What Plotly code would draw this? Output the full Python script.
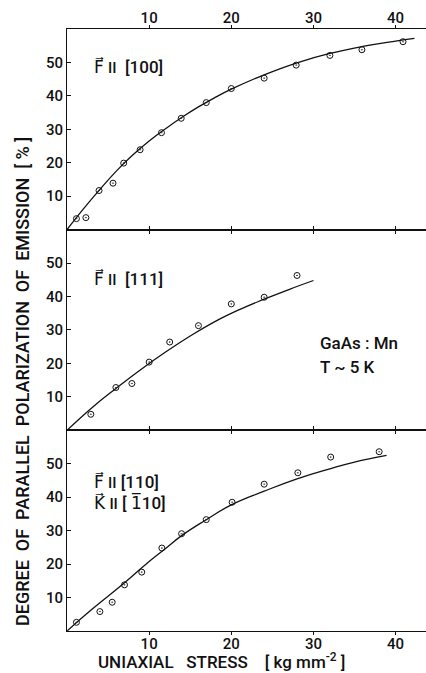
import plotly.graph_objects as go
from plotly.subplots import make_subplots

# ---- data ----
# Panel 1: F || [100]
x100 = [1.15, 2.3, 3.9, 5.6, 6.9, 8.9, 11.5, 13.9, 16.95, 20.0, 24.0, 27.9, 32.0, 35.9, 40.9]
y100 = [3.3, 3.6, 11.7, 13.9, 19.9, 23.9, 29.0, 33.3, 38.0, 42.2, 45.3, 49.2, 52.1, 53.8, 56.2]
cx100 = [0, 2, 4, 6, 8, 10, 12, 14, 16, 18, 20, 24, 28, 32, 36, 40, 42.3]
cy100 = [0, 6.2, 12.0, 17.5, 22.3, 26.5, 30.2, 33.6, 36.7, 39.5, 42.0, 46.3, 49.9, 52.7, 54.8, 56.4, 57.2]

# Panel 2: F || [111]
x111 = [2.9, 5.95, 7.9, 10.0, 12.5, 16.0, 20.0, 24.0, 28.0]
y111 = [4.8, 12.8, 14.0, 20.4, 26.4, 31.3, 37.8, 39.8, 46.3]
cx111 = [0, 3, 6, 9, 12, 15, 18, 21, 24, 27, 30]
cy111 = [0, 6.7, 12.6, 18.2, 23.4, 28.2, 32.5, 36.1, 39.2, 42.1, 44.8]

# Panel 3: F || [110], K || [-110]
x110 = [1.15, 4.0, 5.5, 7.0, 9.1, 11.55, 13.95, 16.95, 20.1, 24.0, 28.1, 32.1, 38.0]
y110 = [2.6, 5.8, 8.6, 13.8, 17.6, 24.8, 29.1, 33.3, 38.5, 43.9, 47.3, 52.0, 53.6]
cx110 = [0, 3, 7, 10, 12, 14, 16.9, 20, 24, 28, 32, 35, 38.9]
cy110 = [0, 6.4, 14.4, 20.8, 24.7, 28.6, 33.2, 37.7, 41.8, 45.5, 48.5, 50.5, 52.5]

xticks = [10, 20, 30, 40]
yticks = [10, 20, 30, 40, 50]

FONT = "Roboto, DejaVu Sans"
INK = "#111111"
W = 500
SP = "\u00a0"

fig = make_subplots(rows=3, cols=1, shared_xaxes=False, vertical_spacing=0)

panels = [(x100, y100, cx100, cy100), (x111, y111, cx111, cy111), (x110, y110, cx110, cy110)]
for i, (px, py, cx, cy) in enumerate(panels, start=1):
    fig.add_trace(go.Scatter(x=cx, y=cy, mode="lines",
                             line=dict(color=INK, width=1.3, shape="spline", smoothing=1.3),
                             showlegend=False, hoverinfo="skip"), row=i, col=1)
    fig.add_trace(go.Scatter(x=px, y=py, mode="markers",
                             marker=dict(symbol="circle-open-dot", size=6, color=INK, line=dict(width=1, color=INK)),
                             showlegend=False), row=i, col=1)

tfont = dict(family=FONT, size=15, color=INK, weight=W)
for i in range(1, 4):
    fig.update_xaxes(range=[0, 43.7], tickvals=xticks, ticks="outside", ticklen=3, tickcolor=INK,
                     showline=True, linecolor=INK, linewidth=1, mirror="ticks", showgrid=False, zeroline=False,
                     showticklabels=(i != 2), side=("top" if i == 1 else "bottom"),
                     ticklabelstandoff=-4, tickfont=tfont, row=i, col=1)
    fig.update_yaxes(range=[0, 60], tickvals=yticks, ticks="inside", ticklen=4, tickcolor=INK,
                     showline=True, linecolor=INK, linewidth=1, showgrid=False, zeroline=False,
                     tickfont=tfont, row=i, col=1)

ann_font = dict(family=FONT, size=17, color=INK, weight=W)
PAR = "<span style='font-size:15px'>II</span>"
labels = [
    (1, 3.1, 48.9, "F\u20d7 " + PAR + SP + SP + "[100]"),
    (2, 3.1, 45.3, "F\u20d7 " + PAR + SP + SP + "[111]"),
    (3, 3.1, 44.6, "F\u20d7 " + PAR + " [110]"),
    (3, 3.1, 38.4, "K\u20d7 " + PAR + " [ 1\u030510]"),
    (2, 30.5, 26.2, "GaAs : Mn"),
    (2, 30.5, 19.0, "T ~ 5 K"),
]
for row, x, y, t in labels:
    ax = "" if row == 1 else str(row)
    fig.add_annotation(x=x, y=y, xref="x" + ax, yref="y" + ax, text=t, showarrow=False,
                       xanchor="left", yanchor="middle", font=ann_font)

G = SP * 2
fig.add_annotation(x=-0.126, y=0.415, xref="paper", yref="paper", showarrow=False, textangle=-90,
                   text="DEGREE" + G + "OF" + G + "PARALLEL" + G + "POLARIZATION" + G + "OF" + G
                        + "EMISSION" + G + "[" + SP + "%" + SP + "]",
                   font=dict(family=FONT, size=18, color=INK, weight=W), xanchor="center", yanchor="middle")
G3 = SP * 3
fig.add_annotation(x=0.43, y=-0.05, xref="paper", yref="paper", showarrow=False,
                   text="UNIAXIAL" + G3 + "STRESS" + G3 + SP + "[" + SP + "kg" + SP + "mm<sup>-2</sup>" + SP + "]",
                   font=dict(family=FONT, size=17, color=INK, weight=W), xanchor="center", yanchor="middle")

fig.update_layout(width=426, height=673, margin=dict(l=67, r=0, t=29, b=42),
                  plot_bgcolor="white", paper_bgcolor="white")
fig.write_html("out.html", post_script="document.body.style.margin='0px';",
               config={"displayModeBar": False})
